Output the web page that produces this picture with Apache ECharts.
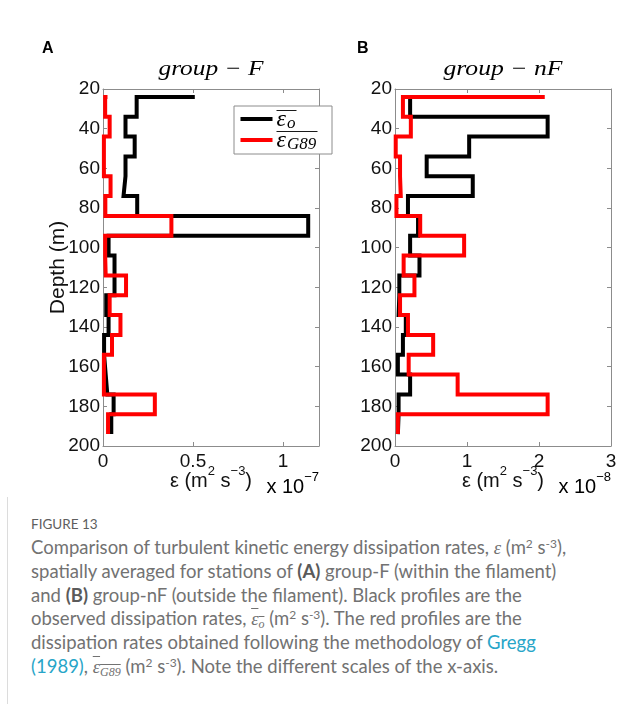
<!DOCTYPE html>
<html>
<head>
<meta charset="utf-8">
<script src="https://cdn.jsdelivr.net/npm/echarts@6/dist/echarts.min.js"></script>
<style>
  html, body { margin: 0; padding: 0; background: #fff; width: 644px; height: 704px; overflow: hidden; }
  #chart { position: absolute; left: 0; top: 0; width: 644px; height: 500px; }
  #rule { position: absolute; left: 7px; top: 497px; width: 1px; height: 207px; background: #dcdcdc; }
  #caption { position: absolute; left: 31px; top: 512px; font-family: Lato, "Open Sans", sans-serif; font-weight: 400; color: #727272; }
  #caption .fig { font-size: 13.5px; font-weight: 400; color: #5e5e5e; height: 24px; line-height: 24px; transform-origin: 0 0; white-space: nowrap; }
  #caption .ln { font-size: 18.5px; line-height: 23.8px; height: 23.8px; white-space: nowrap; transform-origin: 0 0; }
  #caption .ln span.inner, #caption .fig span.inner { display: inline-block; }
  #caption b { font-weight: 700; color: #5a5a5a; }
  #caption .eps { font-family: "Liberation Serif", "DejaVu Serif", serif; font-style: italic; font-weight: 400; }
  #caption .ob { text-decoration: overline; }
  #caption sup { font-size: 12px; vertical-align: 6px; line-height: 0; }
  #caption sub { font-size: 12px; vertical-align: -3px; line-height: 0; }
  #caption .lnk { color: #27a5c8; }
</style>
</head>
<body>
<div id="chart"></div>
<div id="rule"></div>
<div id="caption">
  <div class="fig"><span class="inner">FIGURE 13</span></div>
  <div class="ln"><span class="inner">Comparison of turbulent kinetic energy dissipation rates, <span class="eps">ε</span> (m<sup>2</sup> s<sup>-3</sup>),</span></div>
  <div class="ln"><span class="inner">spatially averaged for stations of <b>(A)</b> group-F (within the filament)</span></div>
  <div class="ln"><span class="inner">and <b>(B)</b> group-nF (outside the filament). Black profiles are the</span></div>
  <div class="ln"><span class="inner">observed dissipation rates, <span class="ob"><span class="eps">ε</span><sub class="eps">o</sub></span> (m<sup>2</sup> s<sup>-3</sup>). The red profiles are the</span></div>
  <div class="ln"><span class="inner">dissipation rates obtained following the methodology of <span class="lnk">Gregg</span></span></div>
  <div class="ln"><span class="inner"><span class="lnk">(1989)</span>, <span class="ob"><span class="eps">ε</span><sub class="eps">G89</sub></span> (m<sup>2</sup> s<sup>-3</sup>). Note the different scales of the x-axis.</span></div>
</div>
<script>
// Bin boundaries of the averaged profiles (m)
const depth = [24, 34, 44, 54, 64, 74, 84, 94, 104, 114, 124, 134, 144, 154, 164, 174, 184, 194];
// group-F, units of 1e-7 m^2 s^-3 (first entry starts the stair line)
const obsF  = [0.51, 0.187, 0.125, 0.176, 0.125, 0.114, 0.19, 1.14, 0.031, 0.064, 0.064, 0.018, 0.031, 0.006, 0.015, 0.024, 0.059, 0.046];
const g89F  = [0.025, 0.012, 0.037, 0.005, 0.005, 0.042, 0.013, 0.38, 0.012, 0.015, 0.128, 0.037, 0.097, 0.05, 0.005, 0.005, 0.288, 0.028];
// group-nF, units of 1e-8 m^2 s^-3
const obsNF = [0.21, 0.21, 2.12, 1.03, 0.44, 1.08, 0.18, 0.32, 0.21, 0.34, 0.06, 0.05, 0.15, 0.11, 0.04, 0.21, 0.05, 0.04];
const g89NF = [2.08, 0.11, 0.22, 0.01, 0.07, 0.08, 0.02, 0.35, 0.96, 0.12, 0.27, 0.07, 0.18, 0.53, 0.19, 0.87, 2.12, 0.04];

const panelTitles = ['group − F', 'group − nF'];
const panelLetters = ['A', 'B'];
const exponents = ['−7', '−8'];
const legendNames = ['o', 'G89'];
const depthAxis = { min: 20, max: 200, interval: 20 };
const epsAxisF  = { min: 0, max: 1.2, interval: 0.5 };
const epsAxisNF = { min: 0, max: 3, interval: 1 };

const SANS = '"Liberation Sans", Arial, Helvetica, sans-serif';
const SERIF = '"Liberation Serif", "DejaVu Serif", "Times New Roman", serif';
const FRAME = '#8c8c8c';
const INK = '#111';

const measureCtx = document.createElement('canvas').getContext('2d');
function textWidth(str, font) { measureCtx.font = font; return measureCtx.measureText(str).width; }

const grids = [
  { left: 103, top: 89, width: 216, height: 357, outerBoundsMode: 'none', containLabel: false },
  { left: 395, top: 89, width: 216, height: 357, outerBoundsMode: 'none', containLabel: false }
];

const nameRich = {
  a: { fontFamily: SANS, fontSize: 20, color: INK, lineHeight: 26, verticalAlign: 'bottom' },
  s: { fontFamily: SANS, fontSize: 13, color: INK, lineHeight: 13, verticalAlign: 'top' }
};

function xAxes(gi, ax) {
  const onStep = v => Math.abs(v / ax.interval - Math.round(v / ax.interval)) < 1e-9;
  const common = {
    type: 'value', gridIndex: gi, min: ax.min, max: ax.max, interval: ax.interval,
    axisLine: { show: true, onZero: false, lineStyle: { color: FRAME, width: 1 } },
    axisTick: { show: true, inside: true, length: 4, lineStyle: { color: FRAME } },
    splitLine: { show: false }
  };
  return [
    Object.assign({}, common, {
      position: 'bottom',
      axisLabel: { show: true, color: INK, fontFamily: SANS, fontSize: 19, margin: 6,
                   formatter: v => onStep(v) ? String(+v.toFixed(3)) : '' },
      name: '{a|ε (m}{s|2}{a| s}{s|−3}{a|)}', nameLocation: 'middle', nameGap: 19,
      nameMoveOverlap: false,
      nameTextStyle: { rich: nameRich }
    }),
    Object.assign({}, common, { position: 'top', axisLabel: { show: false } })
  ];
}

function yAxes(gi, withName) {
  const common = {
    type: 'value', gridIndex: gi, inverse: true,
    min: depthAxis.min, max: depthAxis.max, interval: depthAxis.interval,
    axisLine: { show: true, onZero: false, lineStyle: { color: FRAME, width: 1 } },
    axisTick: { show: true, inside: true, length: 4, lineStyle: { color: FRAME } },
    splitLine: { show: false }
  };
  const left = Object.assign({}, common, {
    position: 'left',
    axisLabel: { show: true, color: INK, fontFamily: SANS, fontSize: 19, margin: 3 }
  });
  if (withName) {
    Object.assign(left, {
      name: 'Depth (m)', nameLocation: 'middle', nameRotate: 90, nameGap: 34,
      nameMoveOverlap: false,
      nameTextStyle: { fontFamily: SANS, fontSize: 21, color: INK }
    });
  }
  return [left, Object.assign({}, common, { position: 'right', axisLabel: { show: false } })];
}

function stairSeries(values, color, axisIdx) {
  return {
    type: 'line', step: 'end', xAxisIndex: axisIdx, yAxisIndex: axisIdx,
    data: values.map((v, i) => [v, depth[i]]),
    showSymbol: false, symbol: 'none', silent: true, animation: false,
    lineStyle: { color: color, width: 4, join: 'miter', cap: 'butt' }
  };
}

// Panel titles, letters, exponent labels and the legend box
const graphics = [];
const titleFont = 'italic 21px ' + SERIF;
const titleWidths = [105, 119];
const letterX = [42, 357];
grids.forEach((g, i) => {
  const w = textWidth(panelTitles[i], titleFont);
  graphics.push({
    type: 'text', x: g.left + g.width / 2, y: 69, scaleX: titleWidths[i] / w,
    style: { text: panelTitles[i], font: titleFont, fill: '#000', align: 'center', verticalAlign: 'middle' }
  });
  graphics.push({
    type: 'text', x: letterX[i], y: 49,
    style: { text: panelLetters[i], font: 'bold 16px ' + SANS, fill: '#000', align: 'left', verticalAlign: 'middle' }
  });
  graphics.push({
    type: 'text', x: g.left + g.width, y: 497,
    style: {
      text: '{a|x 10}{s|' + exponents[i] + '}', align: 'right', verticalAlign: 'bottom',
      rich: nameRich
    }
  });
});

const lg = { x: 234, y: 106, w: 98, h: 48 };
const legendRows = [{ color: '#000', y: 119, name: legendNames[0], bar: 20 },
                    { color: '#ff0000', y: 140, name: legendNames[1], bar: 41 }];
graphics.push({
  type: 'rect', shape: { x: lg.x, y: lg.y, width: lg.w, height: lg.h },
  style: { fill: '#fff', stroke: FRAME, lineWidth: 1 }, z: 50
});
legendRows.forEach(r => {
  graphics.push({ type: 'line', shape: { x1: lg.x + 6.5, y1: r.y, x2: lg.x + 38.5, y2: r.y },
                  style: { stroke: r.color, lineWidth: 4 }, z: 51 });
  graphics.push({ type: 'text', x: lg.x + 42.5, y: r.y + 1,
                  style: { text: 'ε', font: 'italic 24px ' + SERIF, fill: '#000', align: 'left', verticalAlign: 'middle' }, z: 51 });
  graphics.push({ type: 'text', x: lg.x + 53, y: r.y + 5,
                  style: { text: r.name, font: 'italic 17px ' + SERIF, fill: '#000', align: 'left', verticalAlign: 'middle' }, z: 51 });
  graphics.push({ type: 'line', shape: { x1: lg.x + 42.5, y1: r.y - 8.5, x2: lg.x + 42.5 + r.bar, y2: r.y - 8.5 },
                  style: { stroke: '#000', lineWidth: 0.9 }, z: 51 });
});

const chart = echarts.init(document.getElementById('chart'), null, { renderer: 'canvas' });
chart.setOption({
  animation: false,
  backgroundColor: '#fff',
  grid: grids,
  xAxis: [].concat(xAxes(0, epsAxisF), xAxes(1, epsAxisNF)),
  yAxis: [].concat(yAxes(0, true), yAxes(1, false)),
  series: [
    stairSeries(obsF, '#000', 0),
    stairSeries(g89F, '#ff0000', 0),
    stairSeries(obsNF, '#000', 2),
    stairSeries(g89NF, '#ff0000', 2)
  ],
  graphic: graphics
});

// Caption: squeeze the lines so the longest one spans the text column
function fitCaption() {
  const lines = document.querySelectorAll('#caption .ln');
  const first = lines[0].querySelector('.inner');
  const k = 451 / first.getBoundingClientRect().width;
  lines.forEach(l => { l.style.transform = 'scaleX(' + k + ')'; });
  const fig = document.querySelector('#caption .fig');
  fig.style.transform = 'scaleX(' + (58 / fig.querySelector('.inner').getBoundingClientRect().width) + ')';
}
fitCaption();
if (document.fonts && document.fonts.ready) document.fonts.ready.then(fitCaption);
</script>
</body>
</html>
